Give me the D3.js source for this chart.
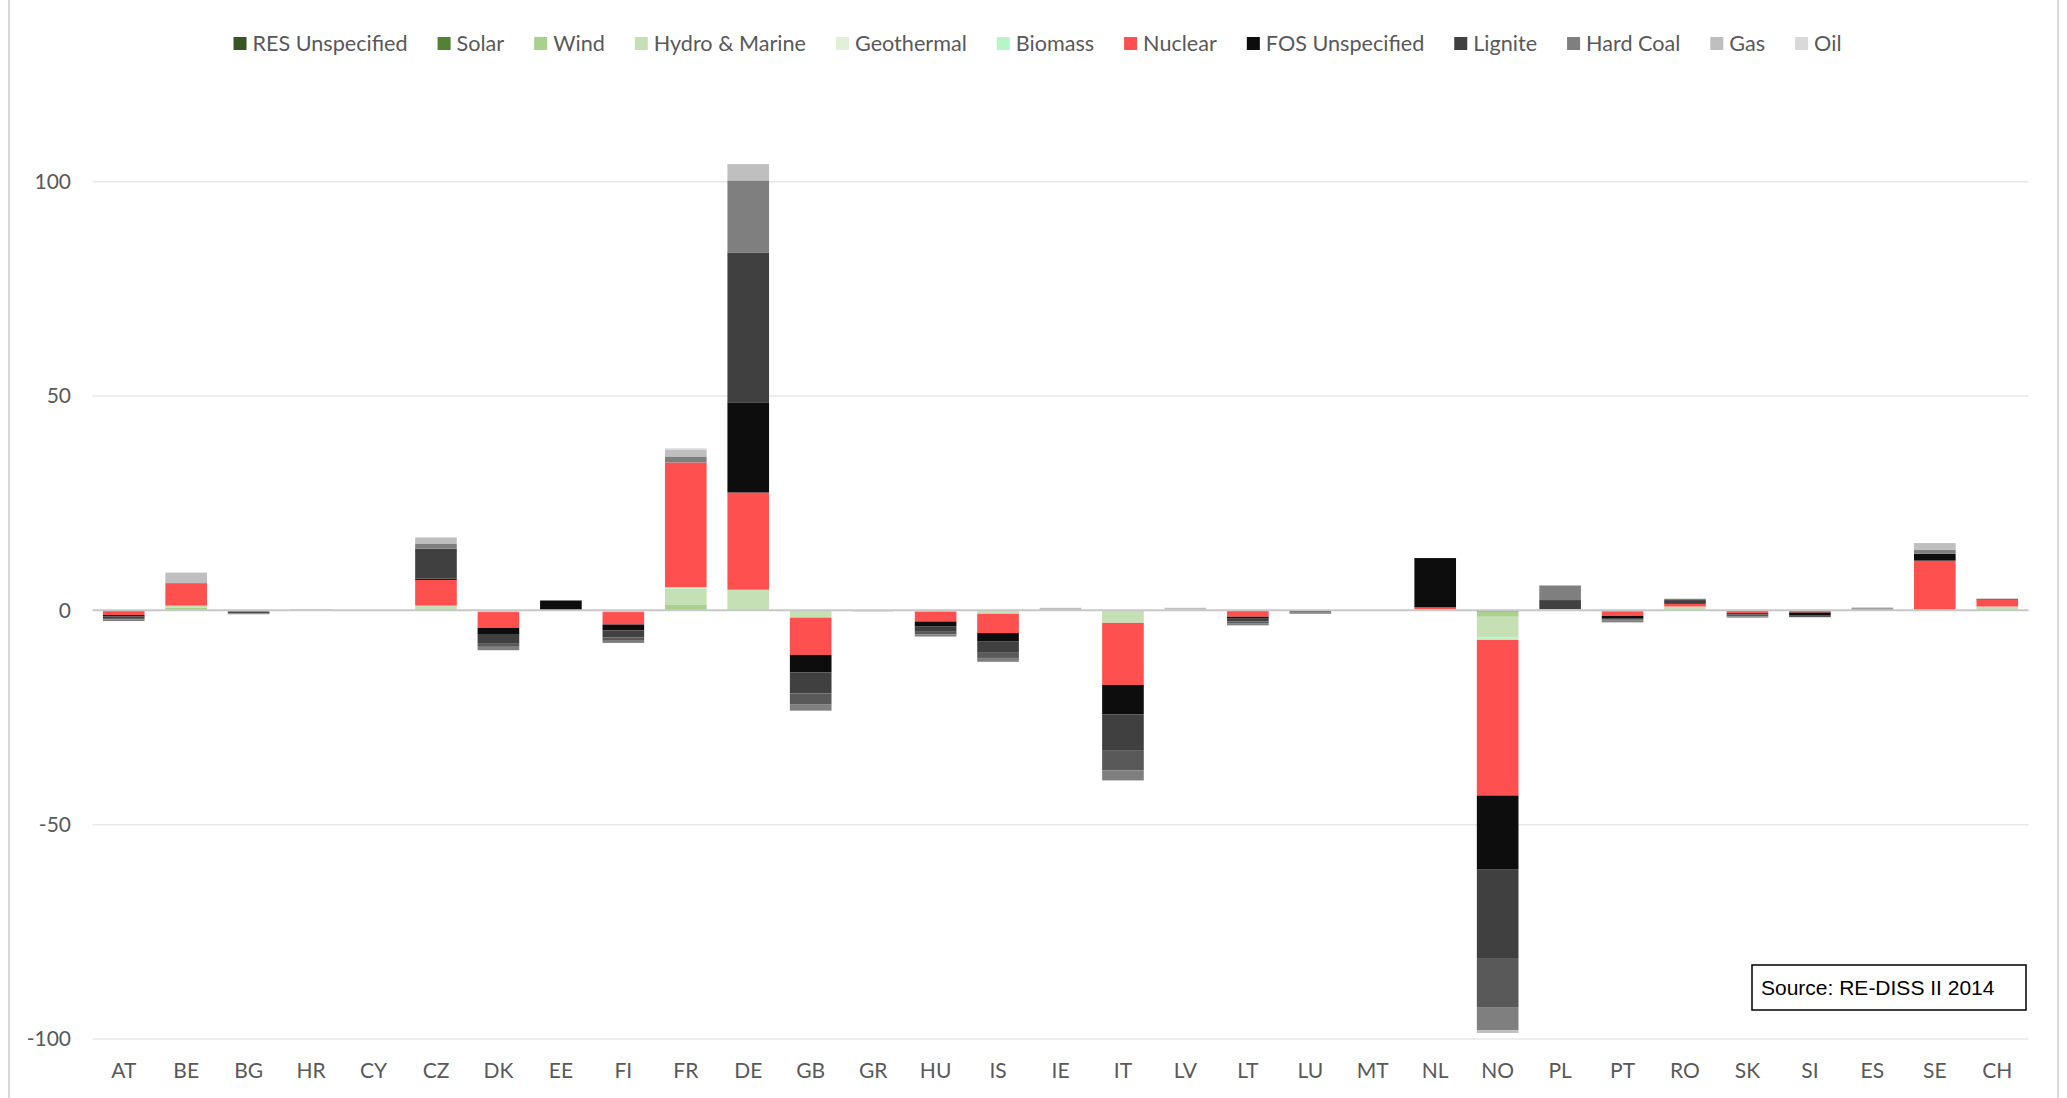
<!DOCTYPE html>
<html>
<head>
<meta charset="utf-8">
<script src="https://cdn.jsdelivr.net/npm/d3@7"></script>
<style>
  html, body { margin: 0; padding: 0; background: #fff; }
  svg text { font-family: Lato, "Open Sans", sans-serif; fill: #595959; }
</style>
</head>
<body>
<svg id="chart" width="2067" height="1098"></svg>
<script>
// Countries (x axis)
const countries = ["AT","BE","BG","HR","CY","CZ","DK","EE","FI","FR","DE","GB","GR","HU","IS","IE","IT","LV","LT","LU","MT","NL","NO","PL","PT","RO","SK","SI","ES","SE","CH"];

// Values per energy source, one per country (same order as countries)
const resUnspecified = [0,0,0,0,0,0,0,0,0,0,0,0,0,0,0,0,0,0,0,0,0,0,0,0,0,0,0,0,0,0,0];
const solar          = [0,0,0,0,0,0,0,0,0,0,0,0,0,0,0,0,0,0,0,0,0,0,-0.3,0,0,0,0,0,0,0,0];
const wind           = [0,0.6,0,0,0,0.3,0,0,0,1.4,0,0,0,0,0,0,0,0,0,0,0,0.2,-1.2,0,0,0,0,0,0,0,0];
const hydroMarine    = [0,0.5,0,0,0,0.8,-0.4,0,-0.4,3.7,4.8,-1.7,0,-0.3,-0.8,0,-2.7,0.3,0,0,0,0.1,-4.8,0,-0.2,0.9,0,0,0,0.2,0.9];
const geothermal     = [0,0,0,0,0,0,0,0,0,0,0,0,0,0,0,0,0,0,0,0,0,0,0,0,0,0,0,0,0,0,0];
const biomass        = [0,0,0,0,0,0,0,0,0,0.3,0,0,0,0,0,0,-0.2,0,0,0,0,0,-0.6,0.3,0,0,0,0,0,0,0];
const nuclear        = [-1.1,5.1,-0.4,0,0,6.0,-3.7,0,-2.9,29.1,22.7,-8.7,0,-2.3,-4.5,0,-14.5,0,-1.5,-0.2,0,0.4,-36.3,0,-1.1,0.6,-0.6,-0.5,0.3,11.4,1.6];
const fosUnspecified = [-0.3,0,0,0,0,0.3,-1.6,2.3,-1.4,0,20.9,-4.1,0,-1.2,-2.0,0,-6.9,0,-0.3,0,0,11.5,-17.3,0,-0.5,0,0,-0.6,0,1.6,0];
const lignite        = [-0.4,0,-0.3,0,0,7.0,-2.1,0,-1.6,0,35.1,-4.9,0,-1.2,-2.6,0,-8.3,0,-0.8,-0.3,0,0,-20.8,2.1,-0.3,0.9,-0.4,-0.2,0,0,0.2];
const coalUnspecified= [-0.3,0,0,0,0,0,-0.7,0,-0.8,0,0,-2.6,0,-0.6,-1.2,0,-4.7,0,-0.5,0,0,0,-11.4,0,-0.3,0,-0.4,-0.3,0,0,0];
const hardCoal       = [-0.4,0.3,-0.2,0,0,1.2,-0.8,0,-0.5,1.4,16.8,-1.4,-0.2,-0.5,-0.9,0.2,-2.3,0,-0.4,-0.3,0,0,-5.3,3.4,-0.4,0.3,-0.3,0,0.2,0.9,0];
const gas            = [0,2.3,0,0.25,0,1.4,0,0,0,1.5,3.8,0,0,0,0,0.4,-0.2,0.3,0,0,0,0,-0.6,0,0,0,0,0,0.2,1.6,0];
const oil            = [0,0,0,0,0,0,0,0,0,0.4,0,0,0,0,0,0,0,0,0,0,0,0,0,0,0,0,0,0,0,0,0];

// Series list (stack order from axis outward); legend=false = not shown in legend
const series = [
  { name: "RES Unspecified", values: resUnspecified, color: "#375623", legend: true },
  { name: "Solar",           values: solar,          color: "#548235", legend: true },
  { name: "Wind",            values: wind,           color: "#a9d18e", legend: true },
  { name: "Hydro & Marine",  values: hydroMarine,    color: "#c5e0b4", legend: true },
  { name: "Geothermal",      values: geothermal,     color: "#e2f0d9", legend: true },
  { name: "Biomass",         values: biomass,        color: "#b5f5c8", legend: true },
  { name: "Nuclear",         values: nuclear,        color: "#ff5050", legend: true },
  { name: "FOS Unspecified", values: fosUnspecified, color: "#0d0d0d", legend: true },
  { name: "Lignite",         values: lignite,        color: "#404040", legend: true },
  { name: "Coal Unspecified",values: coalUnspecified,color: "#595959", legend: false },
  { name: "Hard Coal",       values: hardCoal,       color: "#7f7f7f", legend: true },
  { name: "Gas",             values: gas,            color: "#bfbfbf", legend: true },
  { name: "Oil",             values: oil,            color: "#d9d9d9", legend: true }
];

const yTicks = [-100, -50, 0, 50, 100];

// 1) rows for d3.stack
const rows = countries.map((c, i) => {
  const r = { country: c };
  series.forEach(s => { r[s.name] = s.values[i]; });
  return r;
});

const stack = d3.stack()
  .keys(series.map(s => s.name))
  .offset(d3.stackOffsetDiverging);
const layers = stack(rows);

const svg = d3.select("#chart");

// 2) scales
const x = d3.scaleBand()
  .domain(countries)
  .range([92.5, 2028.5])
  .paddingInner(1 / 3)
  .paddingOuter(1 / 6);

const y = d3.scaleLinear()
  .domain([-100, 100])
  .range([1039, 181.7]);

// chart frame (left/right edges)
svg.append("line").attr("x1", 9).attr("x2", 9).attr("y1", 0).attr("y2", 1098)
  .attr("stroke", "#d9d9d9").attr("stroke-width", 2);
svg.append("line").attr("x1", 2058).attr("x2", 2058).attr("y1", 0).attr("y2", 1098)
  .attr("stroke", "#d9d9d9").attr("stroke-width", 2);

// 3) gridlines
svg.append("g")
  .selectAll("line")
  .data(yTicks.filter(t => t !== 0))
  .join("line")
  .attr("x1", 92.5).attr("x2", 2028.5)
  .attr("y1", d => y(d)).attr("y2", d => y(d))
  .attr("stroke", "#e8e8e8")
  .attr("stroke-width", 1.5);

// y labels (plain hyphen for negatives, like the original)
const yAxis = svg.append("g")
  .attr("transform", "translate(81,0)")
  .call(d3.axisLeft(y).tickValues(yTicks).tickSize(0).tickPadding(10).tickFormat(d => String(d)));
yAxis.select(".domain").remove();
yAxis.selectAll("text").style("font-size", "21px").attr("fill", "#595959");

// x labels (bottom)
const xAxis = svg.append("g")
  .attr("transform", `translate(0,${y(-100)})`)
  .call(d3.axisBottom(x).tickSize(0).tickPadding(24));
xAxis.select(".domain").remove();
xAxis.selectAll("text").style("font-size", "21px").attr("fill", "#595959");

// 4) stacked bars
const colorOf = new Map(series.map(s => [s.name, s.color]));
svg.append("g")
  .selectAll("g")
  .data(layers)
  .join("g")
  .attr("fill", d => colorOf.get(d.key))
  .selectAll("rect")
  .data(d => d.filter(p => p[1] - p[0] !== 0))
  .join("rect")
  .attr("x", d => x(d.data.country))
  .attr("width", x.bandwidth())
  .attr("y", d => y(Math.max(d[0], d[1])))
  .attr("height", d => Math.abs(y(d[0]) - y(d[1])));

// zero / category axis line
svg.append("line")
  .attr("x1", 92.5).attr("x2", 2028.5)
  .attr("y1", y(0)).attr("y2", y(0))
  .attr("stroke", "#c8c8c8")
  .attr("stroke-width", 2);

// 5) legend (centered)
const legItems = series.filter(s => s.legend);
const leg = svg.append("g");
let lx = 0;
legItems.forEach(s => {
  const g = leg.append("g").attr("transform", `translate(${lx},0)`);
  g.append("rect").attr("x", 0).attr("y", -6.5).attr("width", 13).attr("height", 13).attr("fill", s.color);
  const t = g.append("text").attr("x", 19).attr("dy", "0.36em").style("font-size", "21.6px").text(s.name);
  lx += 19 + t.node().getComputedTextLength() + 30;
});
lx -= 30;
leg.attr("transform", `translate(${1037.5 - lx / 2},43.5)`);

// 6) source box
const src = svg.append("g").attr("transform", "translate(1752,965)");
src.append("rect").attr("width", 274).attr("height", 45)
  .attr("fill", "#fff").attr("stroke", "#000").attr("stroke-width", 1.5);
src.append("text").attr("x", 9).attr("y", 22.5).attr("dy", "0.35em")
  .style("font-family", "'Liberation Sans', Arial, sans-serif")
  .style("font-size", "21px")
  .style("fill", "#000")
  .text("Source: RE-DISS II 2014");
</script>
</body>
</html>
